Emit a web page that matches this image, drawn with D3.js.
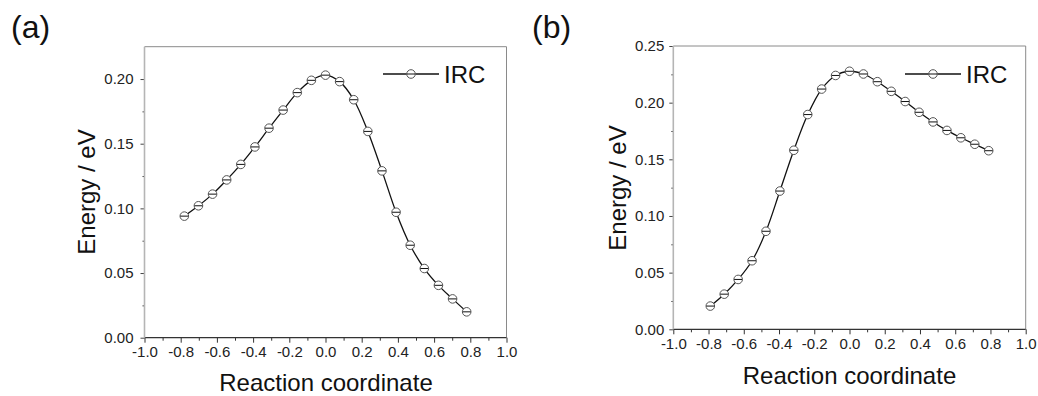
<!DOCTYPE html>
<html>
<head>
<meta charset="utf-8">
<script src="https://cdn.jsdelivr.net/npm/d3@7"></script>
<style>
  body { margin: 0; background: #fff; }
  svg { font-family: "Liberation Sans", Arial, sans-serif; }
  .axis text { font-size: 15px; fill: #222; }
  .axis .domain { display: none; }
</style>
</head>
<body>
<svg id="chart" width="1038" height="396"></svg>
<script>
// panel (a)
const xA = [-0.78, -0.702, -0.624, -0.546, -0.468, -0.39, -0.312, -0.234, -0.156, -0.078, 0,
            0.078, 0.156, 0.234, 0.312, 0.39, 0.468, 0.546, 0.624, 0.702, 0.78];
const energyA = [0.094, 0.102, 0.111, 0.122, 0.134, 0.1475, 0.162, 0.176, 0.1895, 0.199, 0.203,
                 0.198, 0.184, 0.1595, 0.129, 0.097, 0.0715, 0.0535, 0.0405, 0.030, 0.020];

// panel (b)
const xB = [-0.79, -0.711, -0.632, -0.553, -0.474, -0.395, -0.316, -0.237, -0.158, -0.079, 0,
            0.079, 0.158, 0.237, 0.316, 0.395, 0.474, 0.553, 0.632, 0.711, 0.79];
const energyB = [0.0205, 0.031, 0.044, 0.0605, 0.0865, 0.122, 0.158, 0.1895, 0.212, 0.224, 0.2277,
                 0.2253, 0.2185, 0.21, 0.201, 0.1915, 0.183, 0.1755, 0.169, 0.1633, 0.1576];

const xTicks = [-1.0, -0.8, -0.6, -0.4, -0.2, 0.0, 0.2, 0.4, 0.6, 0.8, 1.0];
const yTicksA = [0.00, 0.05, 0.10, 0.15, 0.20];
const yTicksB = [0.00, 0.05, 0.10, 0.15, 0.20, 0.25];
const seriesName = 'IRC';

const svg = d3.select('#chart');

function drawPanel(p) {
    const x = d3.scaleLinear().domain([-1, 1]).range([p.left, p.right]);
    const y = d3.scaleLinear().domain([0, p.yMax]).range([p.bottom, p.top]);

    const g = svg.append('g');

    // frame top / right
    g.append('path')
        .attr('d', `M${p.left},${p.top}H${p.right}V${p.bottom}`)
        .attr('fill', 'none')
        .attr('stroke', '#8a8a8a')
        .attr('stroke-width', 1);

    const minorX = d3.range(-0.9, 1, 0.2);
    const minorY = d3.range(0.025, p.yMax, 0.05);

    // x axis
    g.append('g')
        .attr('class', 'axis')
        .attr('transform', 'translate(0,' + p.bottom + ')')
        .call(d3.axisBottom(x).tickValues(xTicks).tickSize(5).tickPadding(4)
            .tickFormat(d => d.toFixed(1)))
        .call(s => s.selectAll('line').attr('stroke', '#333'));
    g.append('g')
        .attr('class', 'axis')
        .attr('transform', 'translate(0,' + p.bottom + ')')
        .call(d3.axisBottom(x).tickValues(minorX).tickSize(3).tickFormat(''))
        .call(s => s.selectAll('line').attr('stroke', '#333'));
    g.append('line')
        .attr('x1', p.left).attr('x2', p.right)
        .attr('y1', p.bottom).attr('y2', p.bottom)
        .attr('stroke', '#333').attr('stroke-width', 1.2);

    // y axis
    g.append('g')
        .attr('class', 'axis')
        .attr('transform', 'translate(' + p.left + ',0)')
        .call(d3.axisLeft(y).tickValues(p.yTicks).tickSize(4).tickPadding(p.yPad)
            .tickFormat(d => d.toFixed(2)))
        .call(s => s.selectAll('line').attr('stroke', '#444'));
    g.append('g')
        .attr('class', 'axis')
        .attr('transform', 'translate(' + p.left + ',0)')
        .call(d3.axisLeft(y).tickValues(minorY).tickSize(2).tickFormat(''))
        .call(s => s.selectAll('line').attr('stroke', '#444'));
    g.append('line')
        .attr('x1', p.left).attr('x2', p.left)
        .attr('y1', p.top).attr('y2', p.bottom)
        .attr('stroke', '#b5b5b5').attr('stroke-width', 1.6);

    // curve
    const pts = p.xs.map((d, i) => [d, p.ys[i]]);
    g.append('path')
        .datum(pts)
        .attr('fill', 'none')
        .attr('stroke', '#111')
        .attr('stroke-width', 1.3)
        .attr('d', d3.line().x(d => x(d[0])).y(d => y(d[1])).curve(d3.curveCatmullRom.alpha(0.5)));

    const marker = (sel, cx, cy) => {
        sel.append('circle')
            .attr('cx', cx).attr('cy', cy).attr('r', 4.3)
            .attr('fill', '#fff').attr('stroke', '#555').attr('stroke-width', 1);
        sel.append('line')
            .attr('x1', cx - 4).attr('x2', cx + 4)
            .attr('y1', cy).attr('y2', cy)
            .attr('stroke', '#111').attr('stroke-width', 1);
    };
    pts.forEach(d => marker(g, x(d[0]), y(d[1])));

    // legend
    g.append('line')
        .attr('x1', p.legX).attr('x2', p.legX + 56)
        .attr('y1', p.legY).attr('y2', p.legY)
        .attr('stroke', '#111').attr('stroke-width', 1.5);
    marker(g, p.legX + 28, p.legY);
    g.append('text')
        .attr('x', p.legX + 61).attr('y', p.legY + 8.5)
        .attr('font-size', 24).attr('fill', '#111')
        .text(seriesName);

    // axis titles
    g.append('text')
        .attr('x', p.xTitleX).attr('y', p.xTitleY)
        .attr('text-anchor', 'middle')
        .attr('font-size', 24).attr('fill', '#111')
        .text('Reaction coordinate');
    g.append('text')
        .attr('transform', `translate(${p.yTitleX},${p.yTitleY}) rotate(-90)`)
        .attr('text-anchor', 'middle')
        .attr('font-size', 24).attr('fill', '#111')
        .text('Energy / eV');

    // panel label
    g.append('text')
        .attr('x', p.labelX).attr('y', 38)
        .attr('font-size', 32).attr('fill', '#111')
        .text(p.label);
}

drawPanel({
    xs: xA, ys: energyA, yTicks: yTicksA, yMax: 0.225,
    left: 144.5, right: 506.5, top: 46.7, bottom: 337.7, yPad: 7,
    legX: 383, legY: 74,
    xTitleX: 326, xTitleY: 391, yTitleX: 95, yTitleY: 192,
    label: '(a)', labelX: 11
});

drawPanel({
    xs: xB, ys: energyB, yTicks: yTicksB, yMax: 0.25,
    left: 673.3, right: 1025.7, top: 46, bottom: 329.3, yPad: 5,
    legX: 905, legY: 74,
    xTitleX: 849.5, xTitleY: 384, yTitleX: 626, yTitleY: 188,
    label: '(b)', labelX: 532
});
</script>
</body>
</html>
